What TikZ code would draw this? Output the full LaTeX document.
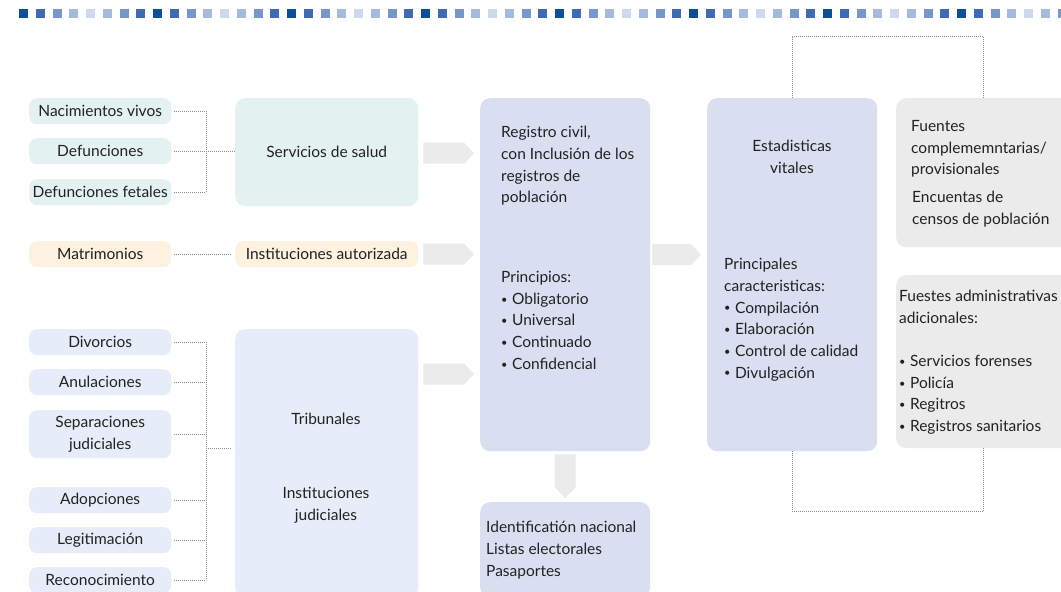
\documentclass[tikz,border=0pt]{standalone}
\usepackage{fontspec}
\setmainfont{Lato}
\usetikzlibrary{calc}

\definecolor{sq0}{HTML}{0B4F96}
\definecolor{sq1}{HTML}{3F6BB5}
\definecolor{sq2}{HTML}{7896CC}
\definecolor{sq3}{HTML}{A6BADD}
\definecolor{sq4}{HTML}{D0D9EC}
\definecolor{saludfill}{HTML}{E3F2F1}
\definecolor{matrimfill}{HTML}{FDF2DF}
\definecolor{judfill}{HTML}{E6ECF8}
\definecolor{civilfill}{HTML}{D9DFF1}
\definecolor{fuentefill}{HTML}{EBEBEB}
\definecolor{arrowgray}{HTML}{EBEBEB}
\definecolor{dotgray}{HTML}{8A8A8A}
\definecolor{txtgray}{HTML}{222222}

\tikzset{
  item/.style={rounded corners=8pt, minimum width=142pt, minimum height=26pt,
    inner sep=0pt, align=center, anchor=north west},
  panel/.style={rounded corners=10pt, inner sep=0pt, align=center, anchor=north west},
  txt/.style={inner sep=0pt, align=left, anchor=north west},
  conn/.style={draw=dotgray, line width=0.7pt, dash pattern=on 0.7pt off 1.3pt},
}

% small bullet for the lists
\newcommand{\bul}{{\fontsize{11}{11}\selectfont\raisebox{1.2pt}{•}}\hspace{4.5pt}}

% block arrow from #1 to #2 (same height)
\newcommand{\blockarrow}[2]{%
  \fill[arrowgray] ($(#1)+(0,-10.5)$) -- ($(#2)+(-10,-10.5)$) -- (#2)
    -- ($(#2)+(-10,10.5)$) -- ($(#1)+(0,10.5)$) -- cycle;}

\begin{document}
\begin{tikzpicture}[x=1pt, y=-1pt, text=txtgray, font=\fontsize{15.5}{21.7}\selectfont]
  \clip (0,0) rectangle (1061,592);
  \fill[white] (0,0) rectangle (1061,592);

  % strip of squares on top
  \foreach \i in {0,...,62} {
    \pgfmathtruncatemacro\k{4-abs(4-mod(\i,8))}
    \fill[sq\k] (19+16.75*\i,9) rectangle ++(9,9);
  }

  % sources
  \node[item, fill=saludfill] (nacidos) at (29,98) {Nacimientos vivos};
  \node[item, fill=saludfill] (defunc) at (29,138) {Defunciones};
  \node[item, fill=saludfill] (fetales) at (29,179) {Defunciones fetales};
  \node[item, fill=matrimfill] (matrim) at (29,241) {Matrimonios};
  \node[item, fill=judfill] (divorc) at (29,329) {Divorcios};
  \node[item, fill=judfill] (anulac) at (29,369) {Anulaciones};
  \node[item, fill=judfill, minimum height=48pt] (separac) at (29,410) {Separaciones\\judiciales};
  \node[item, fill=judfill] (adopc) at (29,487) {Adopciones};
  \node[item, fill=judfill] (legitim) at (29,527) {Legitimación};
  \node[item, fill=judfill] (reconoc) at (29,567) {Reconocimiento};

  % institutions
  \node[panel, fill=saludfill, minimum width=183pt, minimum height=108pt] (salud) at (235,98) {Servicios de salud};
  \node[panel, fill=matrimfill, rounded corners=8pt, minimum width=183pt, minimum height=26pt] (autoriz) at (235,241) {Instituciones autorizada};
  \node[panel, fill=judfill, minimum width=183pt, minimum height=268pt] (tribun) at (235,329) {};
  \node (tribtxt) at (326,419) {Tribunales};
  \node[align=center] (judtxt) at (326,505) {Instituciones\\judiciales};

  % dotted links
  \coordinate (bus1) at (206,151);
  \coordinate (bus2) at (206,448);
  \foreach \n in {nacidos,defunc,fetales}
    \draw[conn] ([xshift=3pt]\n.east) -- (\n.east -| bus1);
  \draw[conn] (nacidos.east -| bus1) -- (fetales.east -| bus1);
  \draw[conn] (bus1) -- (bus1 -| salud.west);
  \draw[conn] ([xshift=3pt]matrim.east) -- ([xshift=-3pt]autoriz.west);
  \foreach \n in {divorc,anulac,separac,adopc,legitim,reconoc}
    \draw[conn] ([xshift=3pt]\n.east) -- (\n.east -| bus2);
  \draw[conn] (divorc.east -| bus2) -- (reconoc.east -| bus2);
  \draw[conn] (bus2) -- ($(bus2 -| tribun.west)+(-3,0)$);

  % civil registration
  \node[panel, fill=civilfill, minimum width=170pt, minimum height=353pt] (registro) at (480,98) {};
  \node[txt] (regtxt) at (501,126) {Registro civil,\\con Inclusión de los\\registros de\\población};
  \node[txt] (principios) at (501,271) {Principios:\\\bul Obligatorio\\\bul Universal\\\bul Continuado\\\bul Confidencial};
  \node[panel, fill=civilfill, minimum width=170pt, minimum height=95pt] (identif) at (480,502) {};
  \node[txt] (idtxt) at (486,521) {Identificatión nacional\\Listas electorales\\Pasaportes};

  % vital statistics
  \node[panel, fill=civilfill, minimum width=170pt, minimum height=353pt] (estad) at (707,98) {};
  \node[align=center, inner sep=0pt, anchor=north] (esttxt) at (792,140) {Estadisticas\\vitales};
  \node[txt] (caract) at (724,258) {Principales\\caracteristicas:\\\bul Compilación\\\bul Elaboración\\\bul Control de calidad\\\bul Divulgación};

  % other sources
  \node[panel, fill=fuentefill, minimum width=175pt, minimum height=149pt] (fuentes) at (896,98) {};
  \node[txt] (fuetxt) at (911,120) {Fuentes\\complememntarias/\\provisionales};
  \node[txt] (enctxt) at (912,191) {Encuentas de\\censos de población};
  \node[panel, fill=fuentefill, minimum width=175pt, minimum height=173pt] (admin) at (896,275) {};
  \node[txt] (admtxt) at (899,290) {Fuestes administrativas\\adicionales:};
  \node[txt] (admlist) at (899,355) {\bul Servicios forenses\\\bul Policía\\\bul Regitros\\\bul Registros sanitarios};

  % block arrows
  \coordinate (s1) at ($(salud.east)+(5,1)$);
  \coordinate (s2) at ($(autoriz.east)+(5,0)$);
  \coordinate (s3) at ($(tribun.north east)+(5,45)$);
  \coordinate (s4) at ($(registro.east)+(2,-20)$);
  \foreach \s/\t in {s1/registro, s2/registro, s3/registro, s4/estad}
    \blockarrow{\s}{$(\s -| \t.west)+(-6,0)$};
  \fill[arrowgray] ($(registro.south)+(-10.5,3)$) -- ++(21,0) -- ++(0,33)
    -- ($(identif.north)+(0,-4)$) -- ++(-10.5,-11) -- cycle;

  % feedback loops
  \draw[conn] (estad.north) -- ++(0,-62) -| (fuentes.north);
  \draw[conn] (estad.south) -- ++(0,60) -| (admin.south);
\end{tikzpicture}
\end{document}
